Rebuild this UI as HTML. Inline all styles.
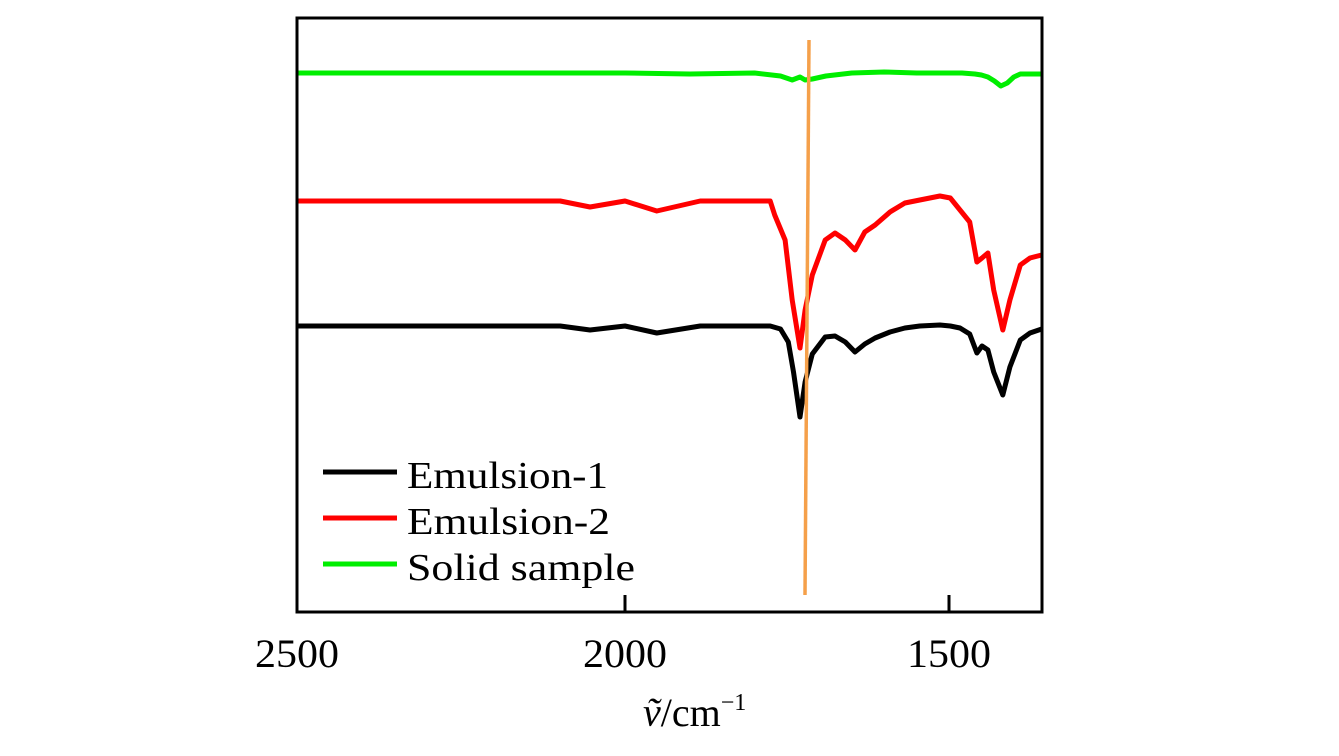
<!DOCTYPE html>
<html><head><meta charset="utf-8"><style>
html,body{margin:0;padding:0;background:#fff;}
svg{display:block;font-family:"Liberation Serif",serif;}
</style></head><body>
<svg id="c" width="1339" height="756"></svg>
<script>
const xTicks=[2500,2000,1500];
const blackW=[2506,2300,2100,2054,2000,1951,1884,1776,1760,1748,1740,1730,1722,1711,1691,1676,1660,1645,1630,1614,1591,1568,1545,1514,1498,1483,1468,1457,1449,1440,1431,1417,1406,1390,1375,1357];
const blackV=[286,286,286,282,286,279,286,286,283,270,240,195,230,258,275,276,270,260,268,274,280,284,286,287,286,284,278,259,266,262,240,217,245,272,279,283];
const redW=[2506,2300,2100,2054,2000,1951,1884,1776,1769,1753,1742,1730,1722,1711,1691,1676,1660,1645,1630,1614,1591,1568,1545,1514,1498,1483,1468,1457,1449,1440,1431,1417,1406,1390,1375,1357];
const redV=[411,411,411,405,411,401,411,411,397,372,312,264,302,337,372,379,372,362,380,387,400,409,412,416,414,402,390,350,354,359,322,282,312,347,354,357];
const greenW=[2506,2300,2100,2000,1900,1800,1760,1742,1730,1722,1711,1690,1650,1600,1550,1500,1480,1460,1450,1440,1430,1420,1410,1400,1390,1380,1357];
const greenV=[539,539,539,539,538,539,536,532,535,532,533,536,539,540,539,539,539,538,537,535,531,526,529,535,538,538,538];
const series=[{n:'emulsion-1',w:blackW,v:blackV,c:'#000'},{n:'emulsion-2',w:redW,v:redV,c:'#ff0000'},{n:'solid-sample',w:greenW,v:greenV,c:'#00ee00'}];
const L=297,R=1042,T=18,B=612;
const X=w=>625+(2000-w)*0.648;
const Y=v=>B-v;
const svg=document.getElementById('c');const NS='http://www.w3.org/2000/svg';
function mk(t,a,p){const e=document.createElementNS(NS,t);for(const k in a)e.setAttribute(k,a[k]);(p||svg).appendChild(e);return e;}
series.forEach(s=>{
 const p=mk('path',{d:s.w.map((w,i)=>(i?'L':'M')+X(w).toFixed(1)+','+Y(s.v[i]).toFixed(1)).join(''),fill:'none',stroke:s.c,'stroke-width':5,'stroke-linejoin':'round'});
 
 
});
const o=mk('line',{x1:809,y1:40,x2:805,y2:595,stroke:'#f5a04a','stroke-width':3.5});


const f=mk('rect',{x:L,y:T,width:R-L,height:B-T,fill:'none',stroke:'#000','stroke-width':3});


xTicks.forEach(t=>{
 const x=X(t);
 if(t!==2500){const l=mk('line',{x1:x,y1:B,x2:x,y2:B-17,stroke:'#000','stroke-width':3});
 
 }
 const tx=mk('text',{x:(t===2500?297:x)-42,y:667,'font-size':40,textLength:84,lengthAdjust:'spacingAndGlyphs'});tx.textContent=t;
 
 
});
const xl=mk('text',{x:643,y:726,'font-size':40});
xl.innerHTML='<tspan font-style="italic">ṽ</tspan>/cm<tspan font-size="24" dy="-16">−1</tspan>';


const labs=['Emulsion-1','Emulsion-2','Solid sample'];
const labW=[201,203,228];
series.forEach((s,i)=>{
 const y=472+i*46;
 const g=mk('g',{});
 
 
 mk('line',{x1:323,y1:y,x2:397,y2:y,stroke:s.c,'stroke-width':5},g);
 const t=mk('text',{x:407,y:y+16,'font-size':38,textLength:labW[i],lengthAdjust:'spacingAndGlyphs'},g);t.textContent=labs[i];
});
</script>
</body></html>
